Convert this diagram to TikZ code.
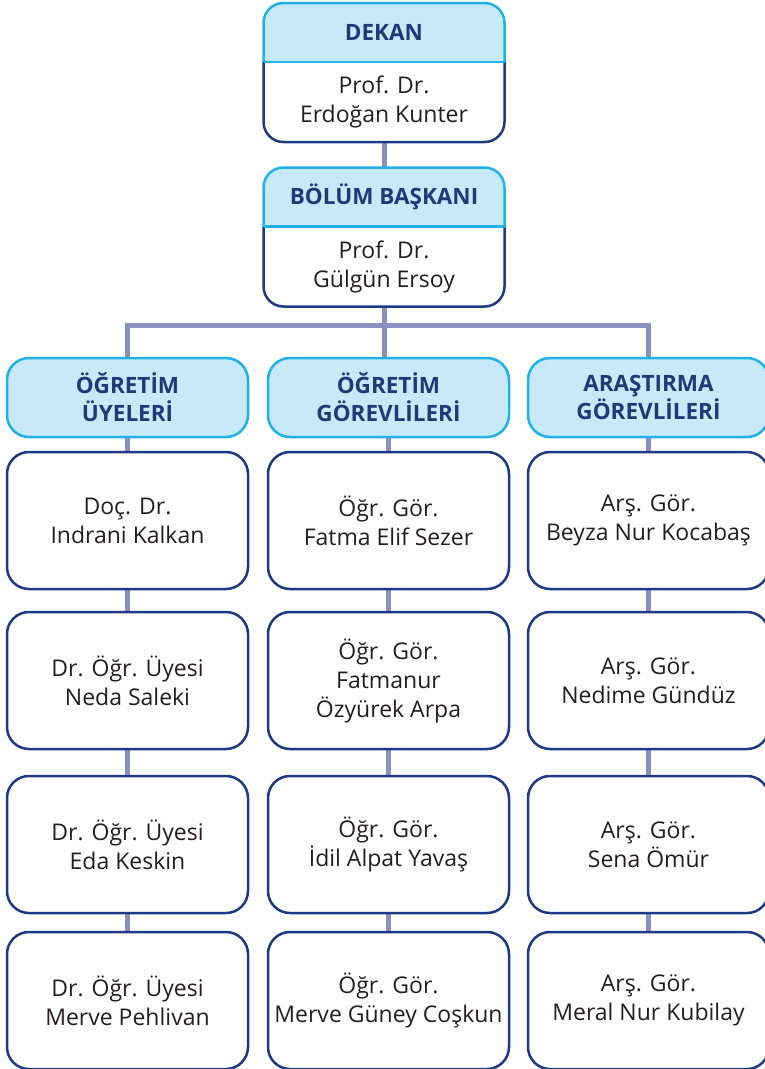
\documentclass[tikz,border=0pt]{standalone}
\usepackage{fontspec}
\setmainfont{Open Sans}
\usetikzlibrary{positioning,backgrounds}
\definecolor{hdrfill}{HTML}{C8E9F8}
\definecolor{hdrline}{HTML}{1FB2EA}
\definecolor{hdrtext}{HTML}{1E3B78}
\definecolor{boxline}{HTML}{1D3B84}
\definecolor{bodytext}{HTML}{231F20}
\definecolor{linkc}{HTML}{8B90C2}
\begin{document}
\begin{tikzpicture}[x=1pt,y=-1pt,
	hdr/.style={minimum width=241pt, minimum height=79pt, rounded corners=22pt, draw=hdrline, line width=2.5pt, fill=hdrfill, text=hdrtext, font=\bfseries\fontsize{22.5}{28}\selectfont, align=center, inner sep=0pt, outer sep=0pt},
	person/.style={minimum width=241pt, minimum height=137pt, rounded corners=22pt, draw=boxline, line width=2.5pt, fill=white, text=bodytext, font=\fontsize{23}{29}\selectfont, align=center, inner sep=0pt, outer sep=0pt},
	tophdr/.style={minimum width=241pt, minimum height=59pt, text=hdrtext, font=\bfseries\fontsize{22.5}{28}\selectfont, inner sep=0pt, outer sep=0pt},
	topbody/.style={minimum width=241pt, minimum height=80pt, text=bodytext, font=\fontsize{23}{29}\selectfont, align=center, inner sep=0pt, outer sep=0pt},
	link/.style={draw=linkc, line width=5pt}]
	\useasboundingbox (0,0) rectangle (764,1069);
	
	% top of the chart
	\node[tophdr] (dekan) at (384,32.5) {DEKAN};
	\node[topbody, below=0pt of dekan] (dekanb) {Prof. Dr.\\Erdoğan Kunter};
	\node[tophdr] (bolum) at (384,197) {BÖLÜM BAŞKANI};
	\node[topbody, below=0pt of bolum] (bolumb) {Prof. Dr.\\Gülgün Ersoy};
	
	% column headers
	\node[hdr] (uyeh) at (127.5,397.5) {ÖĞRETİM\\ÜYELERİ};
	\node[hdr] (ogrh) at (388.5,397.5) {ÖĞRETİM\\GÖREVLİLERİ};
	\node[hdr] (arsh) at (648.5,397.5) {ARAŞTIRMA\\GÖREVLİLERİ};
	
	% first column
	\node[person, below=15pt of uyeh] (uye1) {Doç. Dr.\\Indrani Kalkan};
	\node[person, below=23pt of uye1] (uye2) {Dr. Öğr. Üyesi\\Neda Saleki};
	\node[person, below=27pt of uye2] (uye3) {Dr. Öğr. Üyesi\\Eda Keskin};
	\node[person, below=19pt of uye3] (uye4) {Dr. Öğr. Üyesi\\Merve Pehlivan};
	
	% second column
	\node[person, below=15pt of ogrh] (ogr1) {Öğr. Gör.\\Fatma Elif Sezer};
	\node[person, below=23pt of ogr1] (ogr2) {Öğr. Gör.\\Fatmanur\\Özyürek Arpa};
	\node[person, below=27pt of ogr2] (ogr3) {Öğr. Gör.\\İdil Alpat Yavaş};
	\node[person, below=19pt of ogr3] (ogr4) {Öğr. Gör.\\Merve Güney Coşkun};
	
	% third column
	\node[person, below=15pt of arsh] (ars1) {Arş. Gör.\\Beyza Nur Kocabaş};
	\node[person, below=23pt of ars1] (ars2) {Arş. Gör.\\Nedime Gündüz};
	\node[person, below=27pt of ars2] (ars3) {Arş. Gör.\\Sena Ömür};
	\node[person, below=19pt of ars3] (ars4) {Arş. Gör.\\Meral Nur Kubilay};
	
	\coordinate (bar) at (384,325);
	
	\begin{scope}[on background layer]
		\draw[link] (dekanb.south) -- (bolum.north);
		\draw[link] (bolumb.south) -- (bolumb.south |- uyeh.north);
		\draw[link] (uyeh.north) |- (bar) -| (arsh.north);
		\draw[link] (uyeh) -- (uye1) -- (uye2) -- (uye3) -- (uye4);
		\draw[link] (ogrh) -- (ogr1) -- (ogr2) -- (ogr3) -- (ogr4);
		\draw[link] (arsh) -- (ars1) -- (ars2) -- (ars3) -- (ars4);
		
		% two-part boxes at the top
		\filldraw[fill=hdrfill, draw=hdrline, line width=2.5pt, rounded corners=20pt] (dekan.south west) -- (dekan.north west) -- (dekan.north east) -- (dekan.south east);
		\filldraw[fill=white, draw=boxline, line width=2.5pt, rounded corners=20pt] (dekanb.north west) -- (dekanb.south west) -- (dekanb.south east) -- (dekanb.north east);
		\draw[hdrline, line width=2.5pt] (dekan.south west) -- (dekan.south east);
		\filldraw[fill=hdrfill, draw=hdrline, line width=2.5pt, rounded corners=20pt] (bolum.south west) -- (bolum.north west) -- (bolum.north east) -- (bolum.south east);
		\filldraw[fill=white, draw=boxline, line width=2.5pt, rounded corners=20pt] (bolumb.north west) -- (bolumb.south west) -- (bolumb.south east) -- (bolumb.north east);
		\draw[hdrline, line width=2.5pt] (bolum.south west) -- (bolum.south east);
	\end{scope}
\end{tikzpicture}
\end{document}
